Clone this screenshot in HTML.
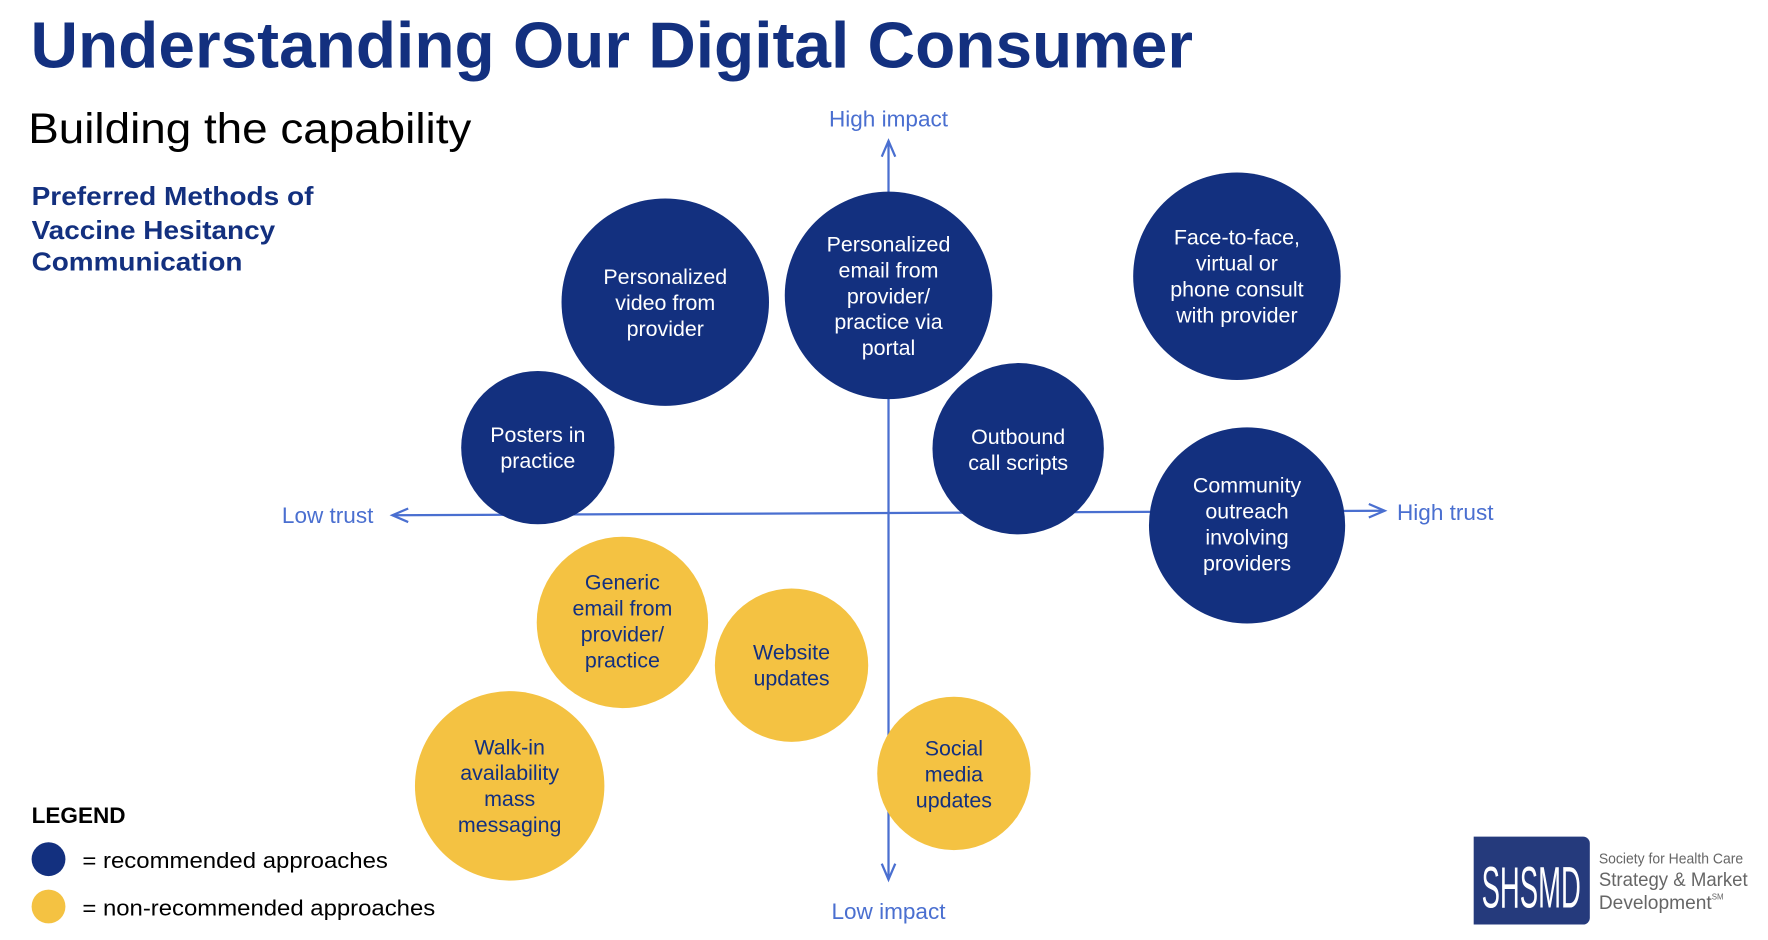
<!DOCTYPE html>
<html><head><meta charset="utf-8"><style>html,body{margin:0;padding:0;background:#fff}svg{display:block}</style></head>
<body>
<svg width="1768" height="940" viewBox="0 0 1568 833.7" xmlns="http://www.w3.org/2000/svg" font-family="Liberation Sans, Arial, sans-serif">
<rect width="1570" height="840" fill="#fff"/>
<text x="27" y="60" font-size="58" font-weight="bold" fill="#13307f" textLength="1031" lengthAdjust="spacingAndGlyphs">Understanding Our Digital Consumer</text>
<text x="25" y="127" font-size="38" fill="#000" textLength="393" lengthAdjust="spacingAndGlyphs">Building the capability</text>
<g font-size="23" font-weight="bold" fill="#13307f">
<text x="28" y="182" textLength="250" lengthAdjust="spacingAndGlyphs">Preferred Methods of</text>
<text x="28" y="212" textLength="216" lengthAdjust="spacingAndGlyphs">Vaccine Hesitancy</text>
<text x="28" y="240" textLength="187" lengthAdjust="spacingAndGlyphs">Communication</text>
</g>
<g stroke="#4a6fd0" stroke-width="2" fill="none">
<line x1="788" y1="125" x2="788" y2="780"/>
<polyline points="782,139 788,125 794,139"/>
<polyline points="782,766 788,780 794,766"/>
<line x1="348" y1="457" x2="1228" y2="453"/>
<polyline points="362,451 348,457 362,463"/>
<polyline points="1214,447 1228,453 1214,459"/>
</g>
<g font-size="20" fill="#4a6fd0">
<text x="788" y="112" text-anchor="middle">High impact</text>
<text x="788" y="815" text-anchor="middle">Low impact</text>
<text x="250" y="464">Low trust</text>
<text x="1239" y="461">High trust</text>
</g>
<g fill="#13307f">
<circle cx="590" cy="268" r="92"/>
<circle cx="788" cy="262" r="92"/>
<circle cx="1097" cy="245" r="92"/>
<circle cx="477" cy="397" r="68"/>
<circle cx="903" cy="398" r="76"/>
<circle cx="1106" cy="466" r="87"/>
</g>
<g fill="#f4c242">
<circle cx="552" cy="552" r="76"/>
<circle cx="702" cy="590" r="68"/>
<circle cx="452" cy="697" r="84"/>
<circle cx="846" cy="686" r="68"/>
</g>
<g font-size="19" fill="#fff" text-anchor="middle">
<text x="590" y="252">Personalized</text><text x="590" y="275">video from</text><text x="590" y="298">provider</text>
<text x="788" y="223">Personalized</text><text x="788" y="246">email from</text><text x="788" y="269">provider/</text><text x="788" y="292">practice via</text><text x="788" y="315">portal</text>
<text x="1097" y="217">Face-to-face,</text><text x="1097" y="240">virtual or</text><text x="1097" y="263">phone consult</text><text x="1097" y="286">with provider</text>
<text x="477" y="392">Posters in</text><text x="477" y="415">practice</text>
<text x="903" y="394">Outbound</text><text x="903" y="417">call scripts</text>
<text x="1106" y="437">Community</text><text x="1106" y="460">outreach</text><text x="1106" y="483">involving</text><text x="1106" y="506">providers</text>
</g>
<g font-size="19" fill="#13307f" text-anchor="middle">
<text x="552" y="523">Generic</text><text x="552" y="546">email from</text><text x="552" y="569">provider/</text><text x="552" y="592">practice</text>
<text x="702" y="585">Website</text><text x="702" y="608">updates</text>
<text x="452" y="669">Walk-in</text><text x="452" y="692">availability</text><text x="452" y="715">mass</text><text x="452" y="738">messaging</text>
<text x="846" y="670">Social</text><text x="846" y="693">media</text><text x="846" y="716">updates</text>
</g>
<text x="28" y="730" font-size="20" font-weight="bold" fill="#000">LEGEND</text>
<circle cx="43" cy="762" r="15" fill="#13307f"/>
<circle cx="43" cy="804" r="15" fill="#f4c242"/>
<text x="73" y="770" font-size="20" fill="#000" textLength="271" lengthAdjust="spacingAndGlyphs">= recommended approaches</text>
<text x="73" y="812" font-size="20" fill="#000" textLength="313" lengthAdjust="spacingAndGlyphs">= non-recommended approaches</text>
<path d="M1307,742 H1404 a6,6 0 0 1 6,6 V814 a6,6 0 0 1 -6,6 H1307 Z" fill="#253a7c"/>
<text x="1358" y="805" font-size="52" fill="#fff" text-anchor="middle" textLength="88" lengthAdjust="spacingAndGlyphs">SHSMD</text>
<text x="1418" y="766" font-size="13" fill="#666" textLength="128" lengthAdjust="spacingAndGlyphs">Society for Health Care</text>
<text x="1418" y="786" font-size="17" fill="#666" textLength="132" lengthAdjust="spacingAndGlyphs">Strategy &amp; Market</text>
<text x="1418" y="806" font-size="17" fill="#666">Development<tspan font-size="7" dy="-8">SM</tspan></text>
</svg>
</body></html>
